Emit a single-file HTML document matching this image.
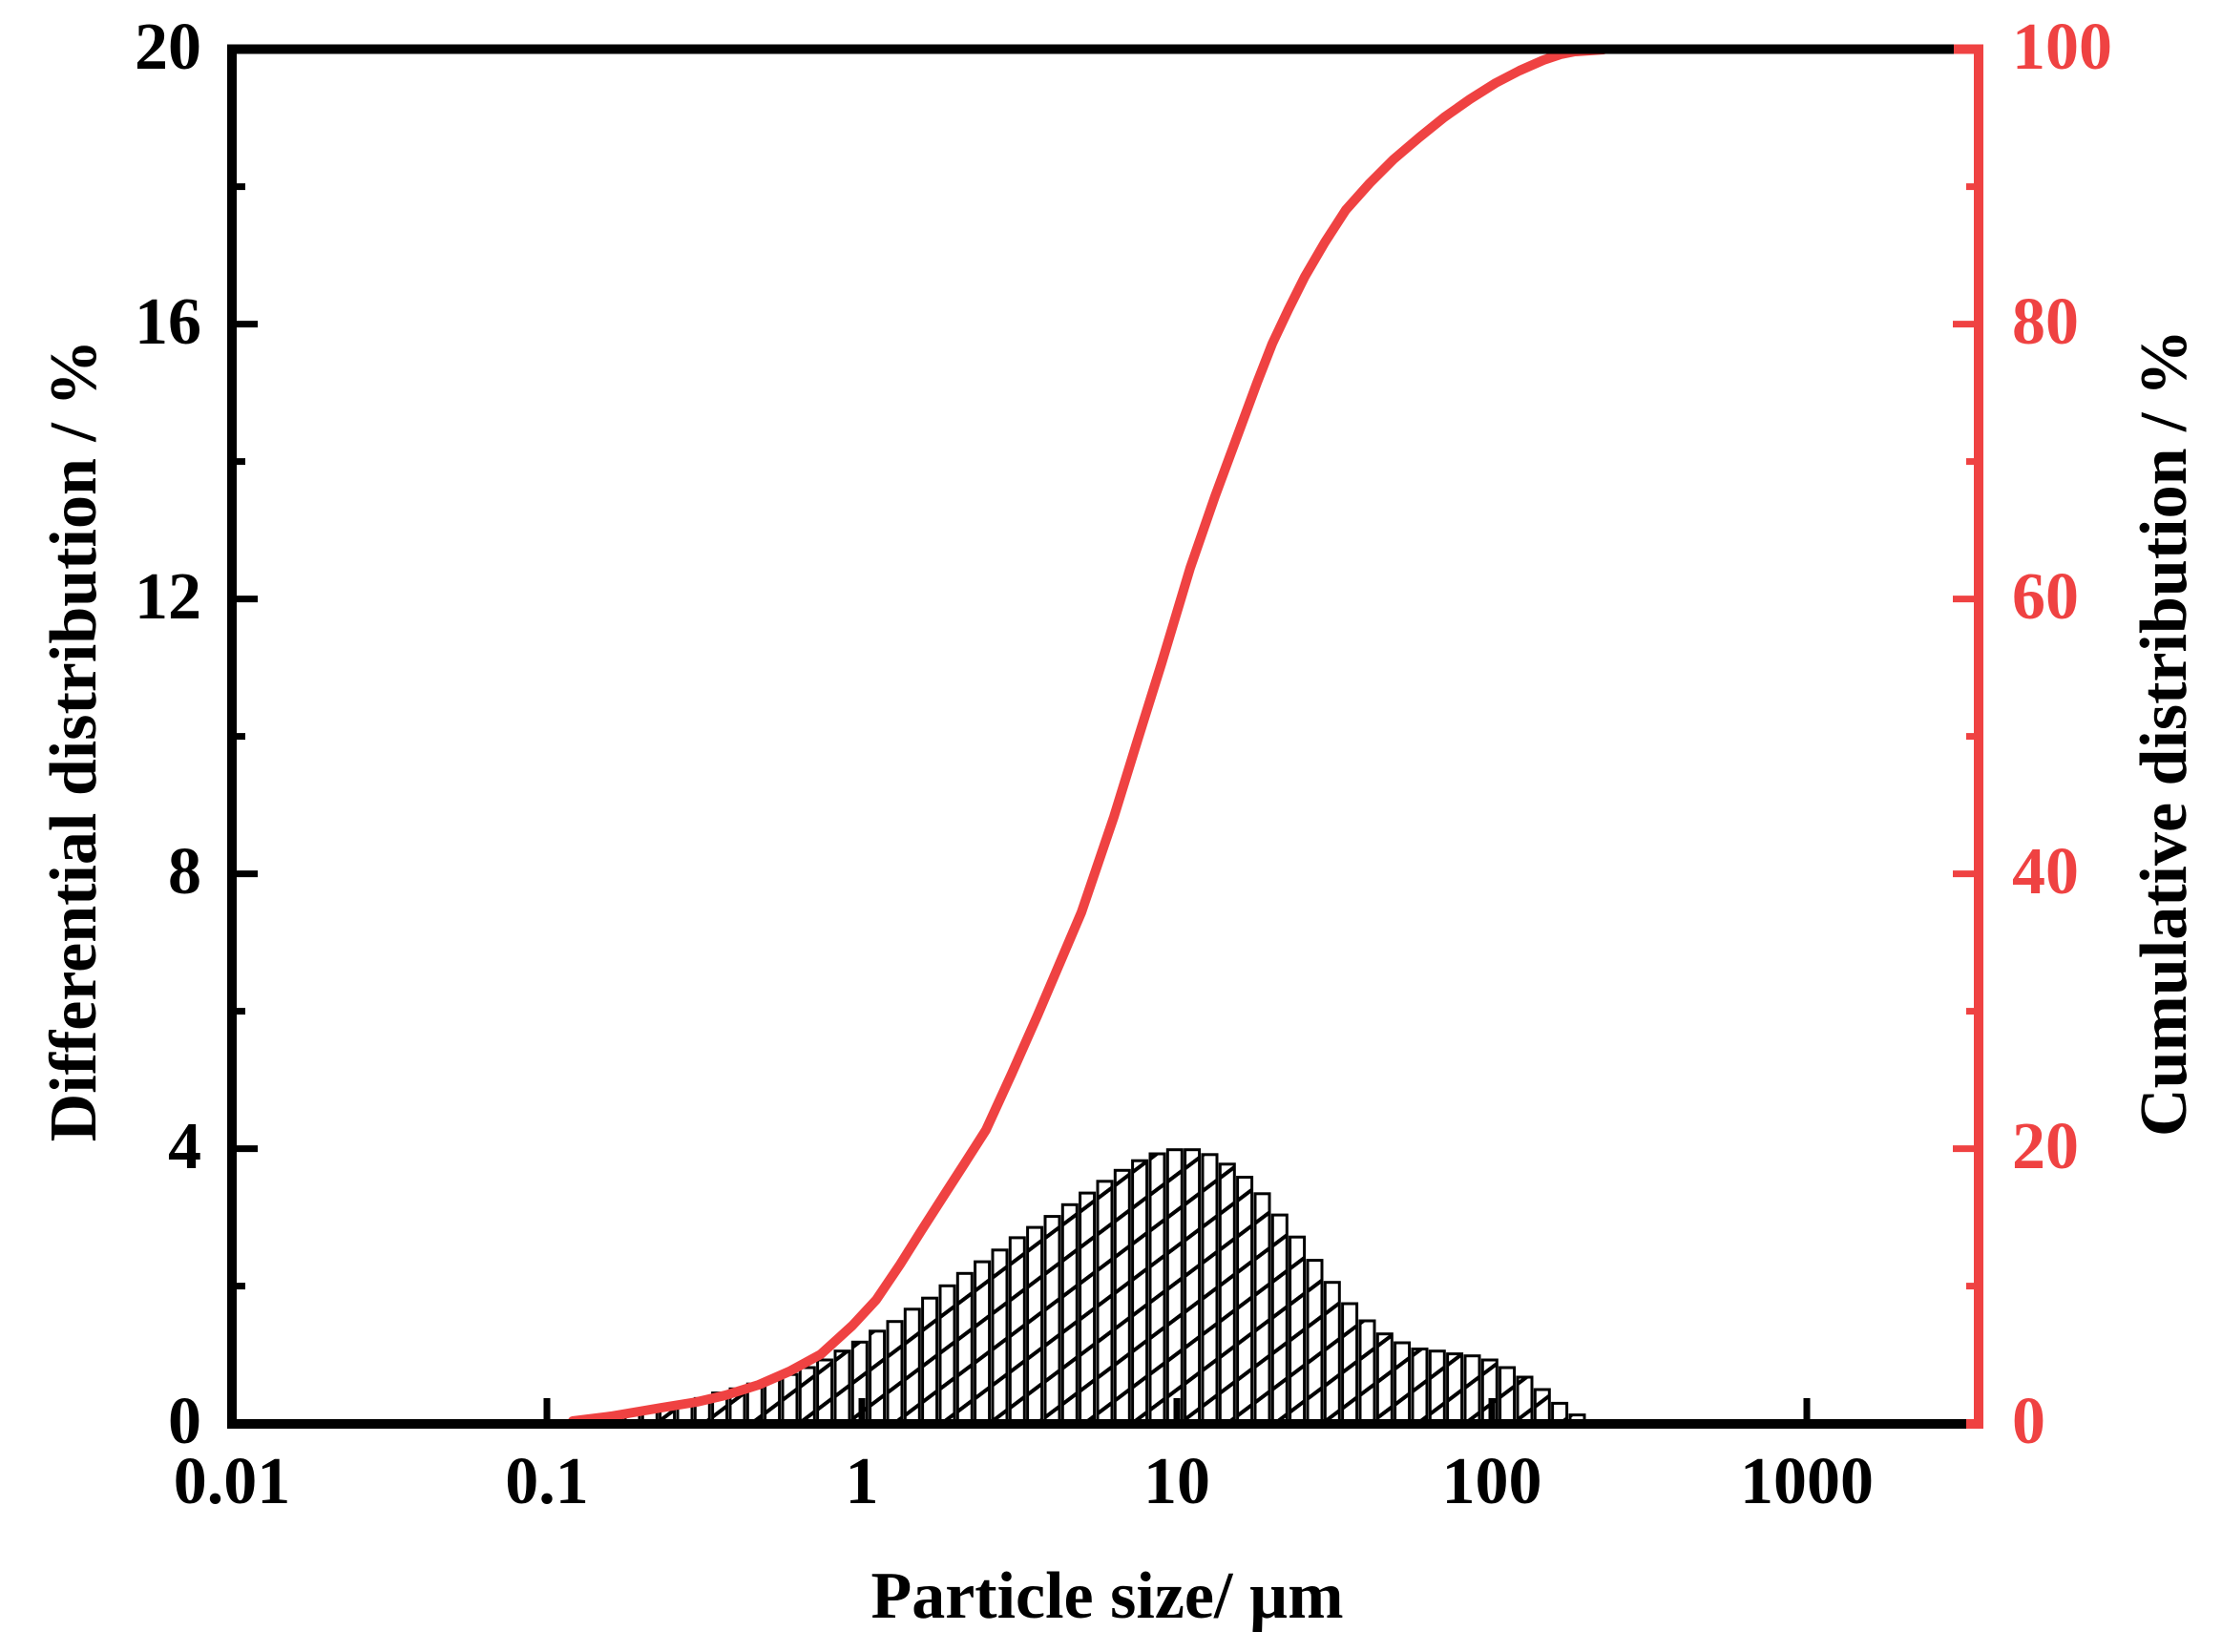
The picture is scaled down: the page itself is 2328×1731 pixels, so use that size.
<!DOCTYPE html>
<html><head><meta charset="utf-8"><style>
html,body{margin:0;padding:0;background:#fff;}
svg{display:block;}
text{font-family:"Liberation Serif","Times New Roman",serif;font-weight:bold;}
</style></head><body>
<svg width="2328" height="1731" viewBox="0 0 2328 1731" xmlns="http://www.w3.org/2000/svg">
<defs>
<pattern id="h" patternUnits="userSpaceOnUse" width="40" height="30" patternTransform="rotate(-37)">
<rect width="40" height="30" fill="#fff"/>
<line x1="0" y1="15" x2="40" y2="15" stroke="#000" stroke-width="4"/>
</pattern>
</defs>
<g stroke="#000" stroke-width="3" fill="url(#h)">
<rect x="618.3" y="1484.1" width="15" height="7.9"/>
<rect x="636.6" y="1481.9" width="15" height="10.1"/>
<rect x="655.0" y="1479.8" width="15" height="12.2"/>
<rect x="673.3" y="1476.9" width="15" height="15.1"/>
<rect x="691.6" y="1472.6" width="15" height="19.4"/>
<rect x="710.0" y="1469.7" width="15" height="22.3"/>
<rect x="728.3" y="1465.4" width="15" height="26.6"/>
<rect x="746.6" y="1459.6" width="15" height="32.4"/>
<rect x="765.0" y="1455.3" width="15" height="36.7"/>
<rect x="783.3" y="1450.2" width="15" height="41.8"/>
<rect x="801.6" y="1445.9" width="15" height="46.1"/>
<rect x="820.0" y="1440.2" width="15" height="51.8"/>
<rect x="838.3" y="1433.0" width="15" height="59.0"/>
<rect x="856.6" y="1425.0" width="15" height="67.0"/>
<rect x="875.0" y="1415.7" width="15" height="76.3"/>
<rect x="893.3" y="1406.3" width="15" height="85.7"/>
<rect x="911.6" y="1394.8" width="15" height="97.2"/>
<rect x="930.0" y="1384.7" width="15" height="107.3"/>
<rect x="948.3" y="1371.8" width="15" height="120.2"/>
<rect x="966.6" y="1360.2" width="15" height="131.8"/>
<rect x="985.0" y="1347.3" width="15" height="144.7"/>
<rect x="1003.3" y="1334.3" width="15" height="157.7"/>
<rect x="1021.6" y="1322.1" width="15" height="169.9"/>
<rect x="1040.0" y="1309.8" width="15" height="182.2"/>
<rect x="1058.3" y="1296.9" width="15" height="195.1"/>
<rect x="1076.6" y="1286.1" width="15" height="205.9"/>
<rect x="1095.0" y="1274.6" width="15" height="217.4"/>
<rect x="1113.3" y="1262.3" width="15" height="229.7"/>
<rect x="1131.6" y="1250.1" width="15" height="241.9"/>
<rect x="1150.0" y="1237.8" width="15" height="254.2"/>
<rect x="1168.3" y="1226.3" width="15" height="265.7"/>
<rect x="1186.6" y="1216.2" width="15" height="275.8"/>
<rect x="1205.0" y="1209.0" width="15" height="283.0"/>
<rect x="1223.3" y="1204.7" width="15" height="287.3"/>
<rect x="1241.6" y="1204.7" width="15" height="287.3"/>
<rect x="1260.0" y="1209.8" width="15" height="282.2"/>
<rect x="1278.3" y="1219.8" width="15" height="272.2"/>
<rect x="1296.6" y="1233.5" width="15" height="258.5"/>
<rect x="1315.0" y="1250.8" width="15" height="241.2"/>
<rect x="1333.3" y="1273.1" width="15" height="218.9"/>
<rect x="1351.6" y="1296.2" width="15" height="195.8"/>
<rect x="1370.0" y="1320.6" width="15" height="171.4"/>
<rect x="1388.3" y="1343.7" width="15" height="148.3"/>
<rect x="1406.6" y="1366.0" width="15" height="126.0"/>
<rect x="1425.0" y="1384.0" width="15" height="108.0"/>
<rect x="1443.3" y="1397.7" width="15" height="94.3"/>
<rect x="1461.6" y="1407.0" width="15" height="85.0"/>
<rect x="1480.0" y="1413.5" width="15" height="78.5"/>
<rect x="1498.3" y="1415.7" width="15" height="76.3"/>
<rect x="1516.6" y="1418.6" width="15" height="73.4"/>
<rect x="1535.0" y="1420.7" width="15" height="71.3"/>
<rect x="1553.3" y="1425.0" width="15" height="67.0"/>
<rect x="1571.6" y="1433.0" width="15" height="59.0"/>
<rect x="1590.0" y="1443.0" width="15" height="49.0"/>
<rect x="1608.3" y="1456.0" width="15" height="36.0"/>
<rect x="1626.6" y="1470.4" width="15" height="21.6"/>
<rect x="1645.0" y="1482.6" width="15" height="9.4"/>
</g>
<polyline fill="none" stroke="#EF4242" stroke-width="10" stroke-linejoin="round" stroke-linecap="round"
points="600,1489 640,1484 693,1475 730,1469 760,1462 795,1451 827,1437 860,1419 893,1389 918,1362 943,1325 965,1290 990,1251 1010,1220 1033,1184 1060,1125 1087,1064 1110,1010 1133,956 1150,906 1167,856 1192,775 1217,695 1232,645 1247,595 1273,520 1300,447 1317,401 1333,360 1350,324 1367,290 1388,254 1410,220 1435,192 1460,167 1487,144 1513,123 1540,104 1567,87 1592,74 1617,63 1635,57 1650,54 1680,52"/>
<g stroke="#000" stroke-width="10" fill="none">
<line x1="243" y1="47" x2="243" y2="1497"/>
<line x1="238" y1="51.5" x2="2047" y2="51.5"/>
<line x1="238" y1="1492" x2="2060" y2="1492"/>
</g>
<g stroke="#000" stroke-width="7">
<line x1="243" y1="339.6" x2="270" y2="339.6"/>
<line x1="243" y1="627.6" x2="270" y2="627.6"/>
<line x1="243" y1="915.6" x2="270" y2="915.6"/>
<line x1="243" y1="1203.6" x2="270" y2="1203.6"/>
<line x1="243" y1="195.6" x2="257" y2="195.6"/>
<line x1="243" y1="483.6" x2="257" y2="483.6"/>
<line x1="243" y1="771.6" x2="257" y2="771.6"/>
<line x1="243" y1="1059.6" x2="257" y2="1059.6"/>
<line x1="243" y1="1347.6" x2="257" y2="1347.6"/>
<line x1="573" y1="1492" x2="573" y2="1465"/>
<line x1="903" y1="1492" x2="903" y2="1465"/>
<line x1="1233" y1="1492" x2="1233" y2="1465"/>
<line x1="1563" y1="1492" x2="1563" y2="1465"/>
<line x1="1893" y1="1492" x2="1893" y2="1465"/>
</g>
<g stroke="#EF4242">
<line x1="2073" y1="47" x2="2073" y2="1497" stroke-width="10"/>
<line x1="2047" y1="51.5" x2="2078" y2="51.5" stroke-width="10"/>
<line x1="2060" y1="1492" x2="2078" y2="1492" stroke-width="10"/>
<g stroke-width="7">
<line x1="2073" y1="339.6" x2="2046" y2="339.6"/>
<line x1="2073" y1="627.6" x2="2046" y2="627.6"/>
<line x1="2073" y1="915.6" x2="2046" y2="915.6"/>
<line x1="2073" y1="1203.6" x2="2046" y2="1203.6"/>
<line x1="2073" y1="195.6" x2="2060" y2="195.6"/>
<line x1="2073" y1="483.6" x2="2060" y2="483.6"/>
<line x1="2073" y1="771.6" x2="2060" y2="771.6"/>
<line x1="2073" y1="1059.6" x2="2060" y2="1059.6"/>
<line x1="2073" y1="1347.6" x2="2060" y2="1347.6"/>
</g>
</g>
<g font-size="70" text-anchor="end" fill="#000">
<text x="211" y="72">20</text>
<text x="211" y="360">16</text>
<text x="211" y="648">12</text>
<text x="211" y="936">8</text>
<text x="211" y="1224">4</text>
<text x="211" y="1512">0</text>
</g>
<g font-size="70" text-anchor="start" fill="#EF4242">
<text x="2108" y="72">100</text>
<text x="2108" y="360">80</text>
<text x="2108" y="648">60</text>
<text x="2108" y="936">40</text>
<text x="2108" y="1224">20</text>
<text x="2108" y="1512">0</text>
</g>
<g font-size="70" text-anchor="middle" fill="#000">
<text x="243" y="1575">0.01</text>
<text x="573" y="1575">0.1</text>
<text x="903" y="1575">1</text>
<text x="1233" y="1575">10</text>
<text x="1563" y="1575">100</text>
<text x="1893" y="1575">1000</text>
<text x="1160" y="1695">Particle size/ µm</text>
<text transform="translate(100,776) rotate(-90)">Differential distribution / %</text>
<text transform="translate(2290,768) rotate(-90)">Cumulative distribution / %</text>
</g>
</svg>
</body></html>
